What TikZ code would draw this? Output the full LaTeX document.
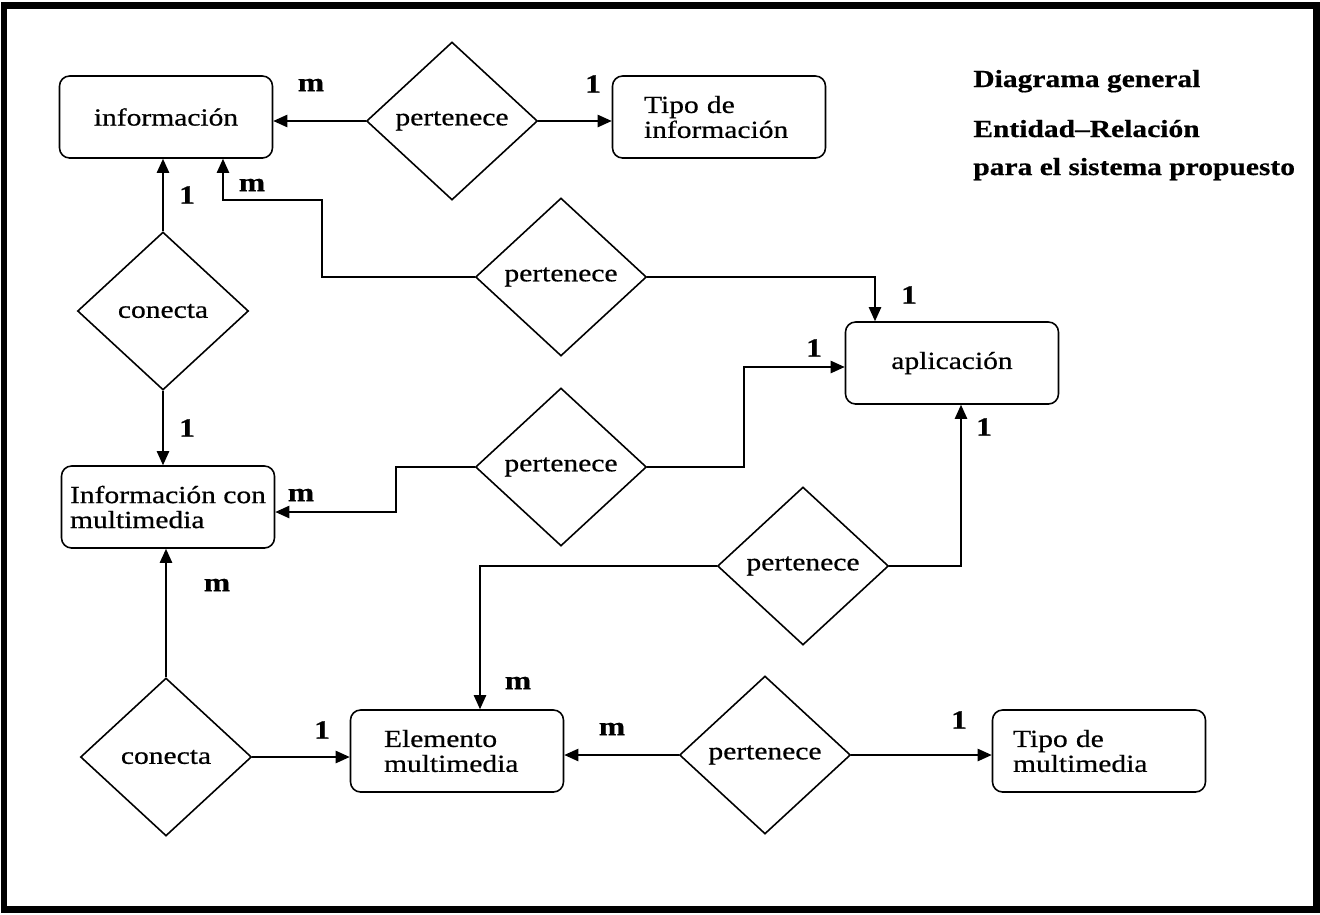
\documentclass[tikz,border=0pt]{standalone}
\usepackage{fontspec}
\setmainfont{Liberation Serif}[FakeStretch=1.2, FakeBold=0.6]
\usetikzlibrary{arrows.meta,shapes,positioning,calc}

\tikzset{
  entidad/.style={draw, rounded corners=0.2cm, line width=0.9pt, minimum width=4.26cm, minimum height=1.64cm, align=left, font=\fontsize{14}{14.2}\selectfont},
  relacion/.style={draw, diamond, line width=0.9pt, minimum width=3.42cm, minimum height=3.16cm, inner sep=0pt, font=\fontsize{14}{14.2}\selectfont},
  card/.style={font=\bfseries\fontsize{15}{15}\selectfont, inner sep=0pt},
  titulo/.style={anchor=base west, font=\bfseries\fontsize{14}{14}\selectfont, inner sep=0pt},
  conector/.style={line width=0.9pt, -{Triangle[length=8pt,width=7pt]}}
}

\begin{document}
\begin{tikzpicture}[x=0.02cm, y=-0.02cm]
    \useasboundingbox (0,0) rectangle (1320,914);
    \draw[line width=0.14cm] (4,5) rectangle (1316,909);

    \node[entidad] (info) at (166,117) {información};
    \node[entidad, text width=3cm] (tipoinfo) at (719,117) {Tipo de\\información};
    \node[entidad] (app) at (952,363) {aplicación};
    \node[entidad] (infomulti) at (168,507) {Información con\\multimedia};
    \node[entidad, text width=2.92cm] (elem) at (457,751) {Elemento\\multimedia};
    \node[entidad, text width=3.44cm] (tipomulti) at (1099,751) {Tipo de\\multimedia};

    \node[relacion] (r1) at (452,121) {pertenece};
    \node[relacion] (con1) at (163,311) {conecta};
    \node[relacion] (r2) at (561,277) {pertenece};
    \node[relacion] (r3) at (561,467) {pertenece};
    \node[relacion] (r4) at (803,566) {pertenece};
    \node[relacion] (con2) at (166,757) {conecta};
    \node[relacion] (r5) at (765,755) {pertenece};

    \coordinate (codo1) at (322,200);
    \coordinate (codo2) at (396,512);
    \coordinate (codo3) at (744,367);

    \draw[conector] (r1.west) -- (r1.west -| info.east);
    \draw[conector] (r1.east) -- (r1.east -| tipoinfo.west);
    \draw[conector] (con1.north) -- (con1.north |- info.south);
    \draw[conector] (con1.south) -- (con1.south |- infomulti.north);
    \draw[conector] (r2.west) -| (codo1) -| ([xshift=1.14cm]info.south);
    \draw[conector] (r2.east) -| ([xshift=-1.54cm]app.north);
    \draw[conector] (r3.west) -| (codo2) -- (codo2 -| infomulti.east);
    \draw[conector] (r3.east) -| (codo3) -- (codo3 -| app.west);
    \draw[conector] (r4.east) -| ([xshift=0.18cm]app.south);
    \draw[conector] (r4.west) -| ([xshift=0.46cm]elem.north);
    \draw[conector] (con2.north) -- (con2.north |- infomulti.south);
    \draw[conector] (con2.east) -- (con2.east -| elem.west);
    \draw[conector] (r5.west) -- (r5.west -| elem.east);
    \draw[conector] (r5.east) -- (r5.east -| tipomulti.west);

    \node[card] (m1) at (311,85) {m};
    \node[card] (u1) at (593,84) {1};
    \node[card] (u2) at (187,195) {1};
    \node[card] (m2) at (252,185) {m};
    \node[card] (u3) at (187,428) {1};
    \node[card] (u4) at (909,295) {1};
    \node[card] (u5) at (814,348) {1};
    \node[card] (m3) at (301,495) {m};
    \node[card] (u6) at (984,427) {1};
    \node[card] (m4) at (217,585) {m};
    \node[card] (m5) at (518,683) {m};
    \node[card] (u7) at (322,730) {1};
    \node[card] (m6) at (612,729) {m};
    \node[card] (u8) at (959,720) {1};

    \node[titulo] (t1) at (973,87) {Diagrama general};
    \node[titulo] (t2) at (973,137) {Entidad--Relación};
    \node[titulo] (t3) at (973,175) {para el sistema propuesto};
\end{tikzpicture}
\end{document}
